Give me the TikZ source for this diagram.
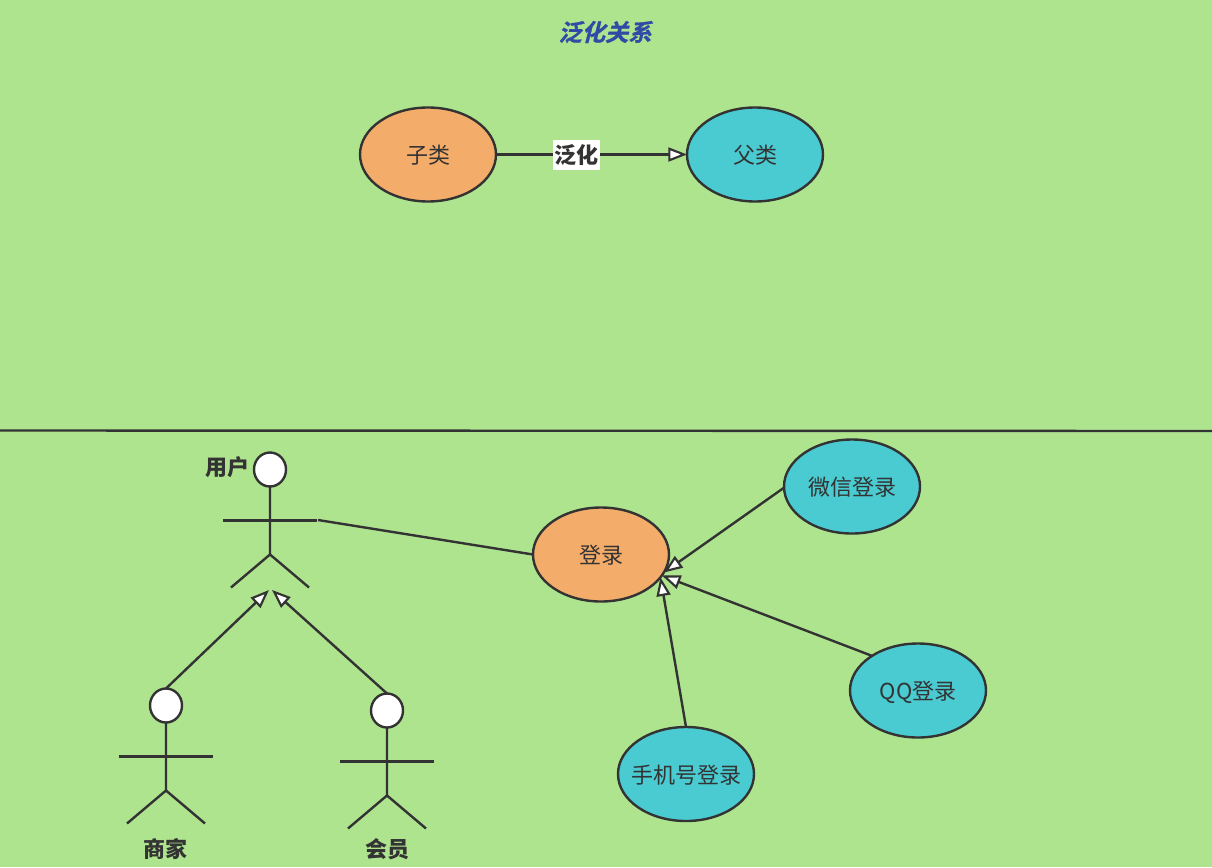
\documentclass[tikz,border=0pt]{standalone}
\usepackage{fontspec}
\setmainfont{Noto Sans CJK SC}
\newfontfamily\slantfont[FakeSlant=0.25,FakeBold=1]{Noto Sans CJK SC Bold}
\usetikzlibrary{arrows.meta,shapes.geometric}
\definecolor{bggreen}{HTML}{AFE48F}
\definecolor{inkgray}{HTML}{333333}
\definecolor{orangefill}{HTML}{F3AC69}
\definecolor{cyanfill}{HTML}{49CBD1}
\definecolor{titleblue}{HTML}{2F4BA6}
\tikzset{
  usecase/.style={ellipse,draw=inkgray,line width=1.8pt,minimum width=102pt,minimum height=70.5pt,inner sep=0pt,outer sep=0pt,text=inkgray,text height=16pt,text depth=2pt,font=\fontsize{16.5}{20}\selectfont},
  child/.style={usecase,fill=cyanfill},
  parent/.style={usecase,fill=orangefill},
  actorhead/.style={ellipse,draw=inkgray,fill=white,line width=1.8pt,minimum width=24pt,minimum height=25.5pt,inner sep=0pt,outer sep=0pt},
  limb/.style={draw=inkgray,line width=1.8pt},
  genarrow/.style={limb,-{Triangle[open,fill=white,length=14pt,width=10.5pt,line width=1.6pt]}},
  boldlabel/.style={text=inkgray,inner sep=0pt,font=\fontsize{16.5}{20}\selectfont\bfseries}
}
\begin{document}
\begin{tikzpicture}[x=0.75pt,y=-0.75pt]
  \fill[bggreen] (0,0) rectangle (1212,867);
  \useasboundingbox (0,0) rectangle (1212,867);
  % top
  \node[text=titleblue,inner sep=0pt,font=\fontsize{17.5}{20}\slantfont] (title) at (605,32) {泛化关系};
  \node[parent] (sub) at (428,154.5) {子类};
  \node[child] (super) at (755,154.5) {父类};
  \draw[genarrow] (sub) to node[pos=0.42,boldlabel,fill=white,minimum width=35pt,minimum height=22.5pt,text height=15pt,text depth=2pt] (genlabel) {泛化} (super);
  % divider
  \coordinate (divleft) at (0,430.5);
  \coordinate (divright) at (1212,431);
  \draw[limb] (divleft) -- (divright);
  % actors
  \foreach \name/\x/\y in {user/270/469.5,shop/166/705.5,member/387/710.5}{
    \node[actorhead] (\name) at (\x,\y) {};
    \draw[limb] (\name) -- (\x,\y+85) -- (\x-39,\y+118);
    \draw[limb] (\x,\y+85) -- (\x+39,\y+118);
    \draw[limb] (\x-47,\y+51) -- (\x+47,\y+51);
  }
  \node[boldlabel] (userlabel) at (227,467) {用户};
  \node[boldlabel] (shoplabel) at (165,849) {商家};
  \node[boldlabel] (memberlabel) at (387,849) {会员};
  \coordinate (userhand) at (318,520);
  \coordinate (usertipa) at (269,590);
  \coordinate (usertipb) at (272,590);
  \draw[genarrow] (shop.north) -- (usertipa);
  \draw[genarrow] (member.north) -- (usertipb);
  % login
  \node[parent] (login) at (601,554.5) {登录};
  \node[child] (wechat) at (852,486.5) {微信登录};
  \node[child] (qq) at (918,690.5) {QQ登录};
  \node[child] (phone) at (686,774) {\makebox[50pt]{手机号登录}};
  \draw[limb] (userhand) -- (login.west);
  \draw[genarrow] (wechat.181) -- (login.-16);
  \draw[genarrow] (qq.143) -- (login.-19);
  \draw[genarrow] (phone.north) -- (login.-21);
\end{tikzpicture}
\end{document}
